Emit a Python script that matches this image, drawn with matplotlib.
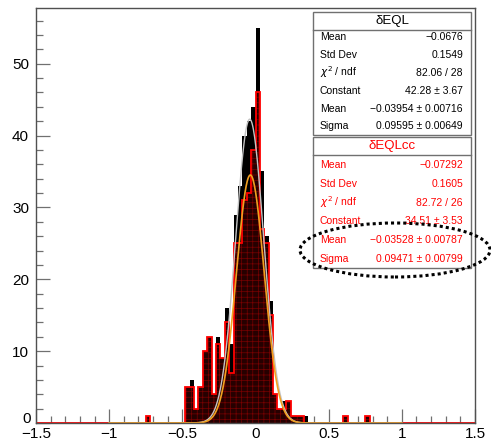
import numpy as np
import matplotlib.pyplot as plt
import matplotlib.transforms as mtransforms
from matplotlib.patches import Ellipse, Rectangle
from matplotlib.ticker import MultipleLocator, FixedFormatter, FixedLocator

plt.rcParams['font.family'] = ['Liberation Sans', 'DejaVu Sans']
plt.rcParams['hatch.linewidth'] = 0.5

# histogram binning: 100 bins on [-1.5, 1.5]
n_bins = 100
x_lo, x_hi = -1.5, 1.5

# non-empty bins (index into the 100 bins) and counts
bin_idx = [25, 34, 35, 36, 37, 38, 39, 40, 41, 42, 43, 44, 45, 46, 47, 48,
           49, 50, 51, 52, 53, 54, 55, 56, 57, 58, 59, 60, 61, 70, 75]
counts_eql = [1, 5, 6, 2, 5, 10, 12, 4, 12, 9, 16, 11, 29, 33, 40, 42,
              44, 55, 35, 26, 17, 4, 2, 3, 3, 1, 1, 1, 1, 1, 1]
counts_eqlcc = [1, 5, 5, 2, 5, 10, 12, 4, 11, 9, 14, 7, 25, 25, 31, 32,
                38, 46, 27, 25, 15, 4, 2, 2, 3, 1, 1, 1, 0, 1, 1]

# gaussian fit parameters (constant, mean, sigma)
fit_eql = [42.28, -0.03954, 0.09595]
fit_eqlcc = [34.51, -0.03528, 0.09471]

# stat box texts
stat_labels = ['Mean', 'Std Dev', r'$\chi^{2}$ / ndf', 'Constant', 'Mean', 'Sigma']
stat_eql = ['\u22120.0676', '0.1549', '82.06 / 28', '42.28 \u00b1 3.67',
            '\u22120.03954 \u00b1 0.00716', '0.09595 \u00b1 0.00649']
stat_eqlcc = ['\u22120.07292', '0.1605', '82.72 / 26', '34.51 \u00b1 3.53',
              '\u22120.03528 \u00b1 0.00787', '0.09471 \u00b1 0.00799']

xtick_vals = [-1.5, -1, -0.5, 0, 0.5, 1, 1.5]
xtick_txt = ['\u22121.5', '\u22121', '\u22120.5', '0', '0.5', '1', '1.5']
ytick_vals = [0, 10, 20, 30, 40, 50]
ytick_txt = ['0', '10', '20', '30', '40', '50']

W, H = 491, 443


def fx(px):
    return px / W


def fy(py):
    return 1 - py / H


edges = np.linspace(x_lo, x_hi, n_bins + 1)
h_eql = np.zeros(n_bins)
h_eqlcc = np.zeros(n_bins)
h_eql[bin_idx] = counts_eql
h_eqlcc[bin_idx] = counts_eqlcc

fig = plt.figure(figsize=(W / 100, H / 100), dpi=100)
ax = fig.add_axes([fx(36), fy(423), fx(475) - fx(36), fy(8) - fy(423)])

# black histogram
ax.stairs(h_eql, edges, fill=True, color='black', zorder=2)
# red histogram: dark hatched fill + red outline
ax.stairs(h_eqlcc, edges, fill=True, color='#260000', zorder=3)
ax.stairs(h_eqlcc, edges, fill=True, facecolor='none', edgecolor='#780000',
          hatch='+++', linewidth=0, zorder=3)
ax.stairs(h_eqlcc, edges, baseline=0, color='red', linewidth=1.3, zorder=4)

# fits drawn on [-1, 1]
xf = np.linspace(-1, 1, 800)
c, m, s = fit_eql
ax.plot(xf, c * np.exp(-0.5 * ((xf - m) / s) ** 2), color='#c4c4c4', lw=1.0, zorder=5)
c, m, s = fit_eqlcc
ax.plot(xf, c * np.exp(-0.5 * ((xf - m) / s) ** 2), color='#f0a020', lw=1.2, zorder=6)

ax.set_xlim(x_lo, x_hi)
ax.set_ylim(0, 57.75)

ax.xaxis.set_major_locator(FixedLocator(xtick_vals))
ax.xaxis.set_major_formatter(FixedFormatter(xtick_txt))
ax.xaxis.set_minor_locator(MultipleLocator(0.1))
# the "0" y label is drawn by hand below, lifted slightly off the x labels
ax.yaxis.set_major_locator(FixedLocator(ytick_vals))
ax.yaxis.set_major_formatter(FixedFormatter([''] + ytick_txt[1:]))
ax.yaxis.set_minor_locator(MultipleLocator(2))
ax.tick_params(which='both', direction='in', color='#707070', width=0.9,
               top=False, right=False, zorder=7)
ax.tick_params(which='major', length=10)
ax.tick_params(which='minor', length=5)
ax.tick_params(axis='x', which='major', pad=3, labelsize=11)
ax.tick_params(axis='y', which='major', pad=5, labelsize=11)
for sp in ax.spines.values():
    sp.set_color('#505050')
    sp.set_linewidth(1.0)
    sp.set_zorder(8)

zero_tr = mtransforms.offset_copy(ax.get_yaxis_transform(), fig=fig, x=-5, y=4, units='dots')
ax.text(0, ytick_vals[0], ytick_txt[0], transform=zero_tr, ha='right', va='center',
        fontsize=11, clip_on=False)


def stat_box(top, sep, bottom, title, rows_y, values, color):
    fig.add_artist(Rectangle((fx(313), fy(bottom)), fx(471) - fx(313), fy(top) - fy(bottom),
                             transform=fig.transFigure, facecolor='white',
                             edgecolor='#707070', lw=1.0, zorder=10))
    fig.add_artist(plt.Line2D([fx(313), fx(471)], [fy(sep), fy(sep)],
                              transform=fig.transFigure, color='#707070', lw=1.0, zorder=11))
    fig.text(fx(392), fy((top + sep) / 2), title, color=color, fontsize=9.5,
             ha='center', va='center', zorder=12)
    for lab, val, yy in zip(stat_labels, values, rows_y):
        fig.text(fx(320), fy(yy), lab, color=color, fontsize=7.5, ha='left', va='center', zorder=12)
        fig.text(fx(463), fy(yy), val, color=color, fontsize=7.5, ha='right', va='center', zorder=12)


stat_box(12, 30, 135, '\u03b4EQL', [37.5, 55, 72.5, 90.5, 108.5, 126], stat_eql, 'black')
stat_box(137, 155, 268, '\u03b4EQLcc', [165, 184, 202.5, 221.5, 240, 259], stat_eqlcc, 'red')

# dotted highlight ellipse around the fitted mean / sigma
fig.add_artist(Ellipse((fx(395), fy(250)), 190 / W, 54 / H, transform=fig.transFigure,
                       fill=False, edgecolor='black', lw=2.2, linestyle=(0, (1, 1)),
                       zorder=13))

fig.savefig('out.png', dpi=100)
